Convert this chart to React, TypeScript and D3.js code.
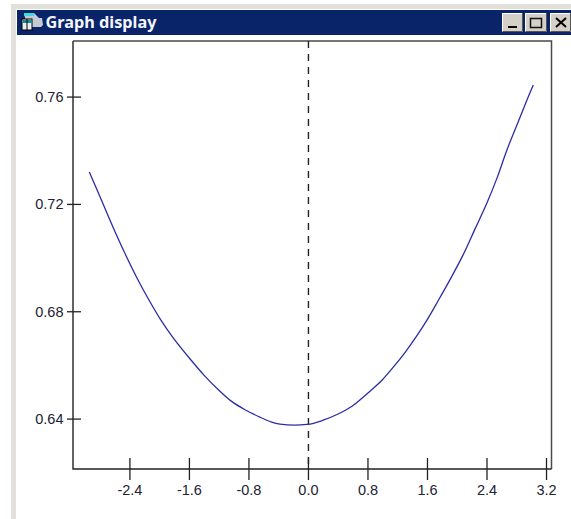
import React from "react";
import * as d3 from "d3";

const xValues = [-2.946,-2.789,-2.628,-2.466,-2.305,-2.144,-1.983,-1.821,-1.593,-1.405,-1.19,-1.028,-0.853,-0.652,-0.517,-0.383,-0.02,0.181,0.397,0.585,0.719,0.827,0.988,1.163,1.297,1.458,1.593,1.741,1.929,2.077,2.238,2.399,2.534,2.668,2.816,2.937,3.022];
const yValues = [0.7321,0.722,0.7116,0.7017,0.6926,0.6844,0.6769,0.6704,0.6625,0.6564,0.6504,0.6465,0.6435,0.6407,0.6391,0.6381,0.638,0.6394,0.6419,0.6448,0.6478,0.6504,0.6545,0.6601,0.6648,0.6711,0.6769,0.684,0.6933,0.7011,0.7108,0.7205,0.7298,0.7403,0.7505,0.7589,0.7645];
const xTicks = [-2.4,-1.6,-0.8,0,0.8,1.6,2.4,3.2];
const yTicks = [0.64,0.68,0.72,0.76];
const titleText = "Graph display";

const L = 73, R = 551.5, T = 41, B = 469;
const x = d3.scaleLinear().domain([-3.165, 3.267]).range([L, R]);
const y = d3.scaleLinear().domain([0.6214, 0.7809]).range([B, T]);
const line = d3.line<number>().x((d) => x(d)).y((_, i) => y(yValues[i]));
const font = "'Liberation Sans', Arial, sans-serif";

function Btn({ bx, w, children }: { bx: number; w: number; children: React.ReactNode }) {
  return (
    <g>
      <rect x={bx} y={13} width={w} height={19} fill="#d4d0c8" />
      <path d={`M${bx + .5} 32V13.5H${bx + w}`} fill="none" stroke="#fff" />
      <path d={`M${bx + .5} 31.5H${bx + w - .5}V13`} fill="none" stroke="#555" />
      {children}
    </g>
  );
}

export default function App() {
  return (
    <svg width={571} height={519} style={{ position: "absolute", left: 0, top: 0, background: "#fff" }}>
      <rect x={11} y={4} width={560} height={515} fill="#e2e0da" />
      <rect x={16} y={9} width={555} height={510} fill="#fff" />
      <rect x={17} y={10} width={554} height={25} fill="#0a246a" />
      {/* icon */}
      <path d="M24 13h10l5 5h3l1 7-2 2H27z" fill="#c4cad4" />
      <rect x={24} y={13} width={10} height={3} fill="#40d8dc" />
      <rect x={22} y={19} width={10} height={11} fill="#e8eef4" stroke="#000" />
      <rect x={23} y={20} width={9} height={3} fill="#1a8a94" />
      <line x1={27} x2={27} y1={19} y2={30} stroke="#000" />
      <text x={45.5} y={28} fontFamily="'Noto Sans', sans-serif" fontWeight={700} fontSize={16} fill="#f4f6fa" textLength={111} lengthAdjust="spacingAndGlyphs">{titleText}</text>
      <Btn bx={502} w={21}><rect x={508} y={26} width={9} height={2} fill="#000" /></Btn>
      <Btn bx={525} w={22}><rect x={530.5} y={18.5} width={11} height={9} fill="none" stroke="#111" strokeWidth={1.5} /></Btn>
      <Btn bx={550} w={21}><path d="M556 18l10 9M566 18l-10 9" stroke="#000" strokeWidth={2} /></Btn>

      {/* plot frame */}
      <path d={`M${L} ${T}H${R}V${B}`} fill="none" stroke="#4a4a4a" strokeWidth={1.5} />
      <path d={`M${L} ${T}V${B}H${R}`} fill="none" stroke="#222" strokeWidth={1.4} />
      <line x1={x(0)} x2={x(0)} y1={T} y2={B} stroke="#222" strokeWidth={1.4} strokeDasharray="7 6" />
      <path d={line.curve(d3.curveCatmullRom)(xValues) ?? ""} fill="none" stroke="#2c2ca6" strokeWidth={1.3} />

      {yTicks.map((t) => (
        <g key={t}>
          <line x1={L - 6} x2={L + 8} y1={y(t)} y2={y(t)} stroke="#222" strokeWidth={1.3} />
          <text x={L - 9.5} y={y(t) + 5} textAnchor="end" fontFamily={font} fontSize={14.5} fill="#223">{t.toFixed(2)}</text>
        </g>
      ))}
      {xTicks.map((t) => (
        <g key={t}>
          <line x1={x(t)} x2={x(t)} y1={B - 11} y2={B + 11} stroke="#222" strokeWidth={1.3} />
          <text x={x(t)} y={494.5} textAnchor="middle" fontFamily={font} fontSize={14.5} fill="#223">{t.toFixed(1)}</text>
        </g>
      ))}
    </svg>
  );
}
